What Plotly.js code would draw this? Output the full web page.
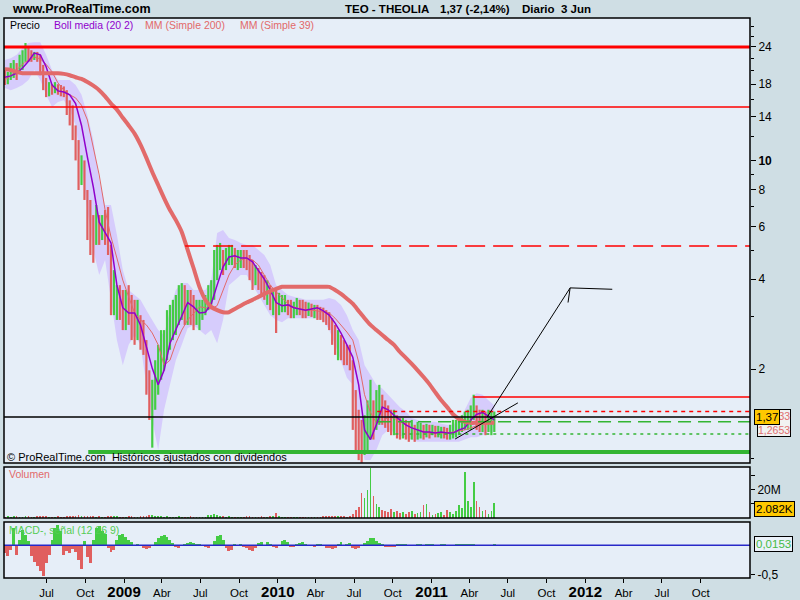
<!DOCTYPE html>
<html><head><meta charset="utf-8">
<script src="https://cdn.plot.ly/plotly-3.0.1.min.js"></script>
<style>html,body{margin:0;padding:0;background:#cfdee4;}#chart{width:800px;height:600px;}</style>
</head><body><div id="chart"></div>
<script>
// ---- weekly price bars, weeks starting 2008-03-24 ----
const firstWeek = '2008-03-24';
const high = [
20.1,19.8,21.2,21.7,21.2,22.6,23.4,24.75,23.8,23.4,
23.1,23.1,22.6,20.9,18.9,18.3,18.0,18.3,18.0,17.9,
17.7,17.2,15.9,15.3,13.1,11.7,10.4,10.0,7.96,7.37,
6.56,7.09,6.56,6.56,6.82,6.98,5.21,4.29,3.82,3.82,
3.68,3.68,3.82,3.54,3.41,3.41,3.03,2.92,2.50,1.98,
1.84,2.14,2.41,2.70,2.70,3.15,3.28,3.41,3.54,3.82,
3.88,3.82,3.68,3.68,3.54,3.41,3.41,3.41,3.54,3.82,
3.97,5.01,5.21,5.29,5.01,5.09,5.21,5.21,5.09,5.01,
5.01,5.01,5.01,4.82,4.64,4.46,4.36,4.23,4.13,3.97,
3.82,3.68,3.68,3.60,3.54,3.54,3.41,3.41,3.36,3.46,
3.41,3.41,3.36,3.34,3.31,3.28,3.28,3.23,3.21,3.15,
3.10,2.96,2.81,2.70,2.60,2.50,2.41,2.41,2.14,1.70,
1.46,1.35,1.40,1.57,1.84,1.57,1.70,1.77,1.64,1.57,
1.51,1.46,1.46,1.40,1.37,1.37,1.35,1.33,1.35,1.30,
1.33,1.32,1.30,1.31,1.30,1.30,1.29,1.29,1.28,1.28,
1.27,1.30,1.35,1.35,1.37,1.40,1.44,1.46,1.51,1.64,
1.51,1.46,1.46,1.44,1.46,1.44,1.44];
const low = [
17.9,18.0,18.6,18.9,18.6,19.8,20.1,21.4,21.4,21.4,
21.7,21.4,19.3,17.2,16.3,16.4,16.6,16.8,16.6,16.4,
16.3,14.2,13.1,11.7,10.0,7.96,8.27,7.37,5.41,4.82,
4.54,5.21,5.21,5.41,5.21,4.82,3.03,3.03,2.92,2.92,
2.70,2.70,2.81,2.50,2.41,2.50,2.32,2.23,1.64,1.35,
1.09,1.46,1.64,1.84,1.98,2.14,2.32,2.50,2.60,2.81,
2.92,2.81,2.81,2.81,2.70,2.81,2.70,2.92,3.03,3.15,
3.28,3.41,3.97,4.29,4.13,4.29,4.46,4.46,4.36,4.29,
4.36,4.36,4.29,3.97,3.68,3.82,3.68,3.54,3.41,3.28,
3.15,3.03,2.64,3.03,3.10,3.10,3.03,2.96,2.96,3.03,
3.03,2.96,2.96,3.01,2.99,2.96,2.92,2.92,2.87,2.81,
2.70,2.41,2.23,2.14,2.14,2.06,2.06,1.98,1.25,1.07,
0.99,0.97,1.03,1.07,1.16,1.16,1.25,1.30,1.30,1.27,
1.23,1.20,1.20,1.17,1.16,1.17,1.16,1.14,1.16,1.14,
1.16,1.17,1.16,1.18,1.17,1.20,1.18,1.18,1.17,1.17,
1.16,1.16,1.17,1.18,1.20,1.23,1.25,1.25,1.25,1.35,
1.25,1.23,1.23,1.20,1.23,1.20,1.23];
const close = [
18.6,18.9,20.4,20.7,19.8,21.4,22.6,23.4,23.1,22.4,
22.6,22.4,20.4,18.3,17.2,17.5,17.2,17.5,17.2,16.95,
16.7,14.8,13.85,12.6,10.8,8.94,9.29,7.96,6.31,5.85,
5.41,6.07,5.85,6.07,5.85,5.41,3.41,3.41,3.41,3.28,
3.15,3.41,3.28,2.92,2.70,2.92,2.60,2.41,1.84,1.57,
1.64,1.91,2.14,2.32,2.41,2.70,2.81,3.03,3.15,3.41,
3.41,3.28,3.28,3.15,3.03,3.03,3.03,3.15,3.28,3.41,
3.68,4.46,4.82,4.82,4.64,4.71,4.82,4.82,4.71,4.71,
4.71,4.64,4.57,4.29,3.97,4.13,4.04,3.82,3.68,3.68,
3.41,3.41,3.15,3.28,3.28,3.28,3.21,3.15,3.15,3.28,
3.26,3.21,3.15,3.21,3.15,3.15,3.10,3.08,3.03,2.96,
2.87,2.60,2.41,2.41,2.32,2.28,2.23,2.14,1.46,1.25,
1.16,1.11,1.25,1.35,1.40,1.35,1.46,1.51,1.46,1.40,
1.37,1.33,1.33,1.30,1.27,1.27,1.25,1.23,1.25,1.22,
1.23,1.25,1.23,1.25,1.23,1.25,1.23,1.23,1.23,1.22,
1.21,1.23,1.27,1.27,1.30,1.33,1.35,1.37,1.40,1.51,
1.40,1.35,1.35,1.33,1.35,1.37,1.37];
const firstOpen = 19.2;
// volume in millions
const volume = [
1.0,1.2,0.9,1.1,1.3,1.0,0.9,1.4,1.2,1.0,
0.9,1.1,1.3,1.5,1.2,1.0,0.9,1.0,1.1,0.9,
1.0,1.3,1.5,1.4,1.6,1.8,1.5,1.4,1.6,1.3,
1.2,1.0,1.1,0.9,1.0,1.2,1.5,1.3,1.1,1.0,
0.9,1.0,1.1,1.2,1.0,0.9,1.1,1.3,1.6,1.8,
2.0,1.5,1.2,1.1,1.0,1.2,1.0,0.9,1.0,1.1,
1.0,0.9,1.0,1.2,0.9,1.0,0.8,0.9,1.0,1.8,
2.2,3.0,2.0,1.5,1.2,1.0,1.1,1.0,0.9,1.0,
0.9,1.0,1.1,1.2,1.0,0.9,1.0,1.1,0.9,1.0,
1.2,1.5,3.5,1.4,1.0,0.9,1.0,0.8,0.9,1.0,
0.9,1.0,0.8,0.9,1.0,0.8,0.9,1.0,1.1,1.2,
1.3,1.5,1.4,1.2,1.3,1.1,1.0,1.2,3.0,6.0,
8.0,18.0,14.0,20.0,36.0,16.0,10.0,8.0,6.0,5.0,
4.0,6.5,4.0,5.0,3.5,4.5,3.0,4.0,5.0,3.0,
3.5,4.0,9.0,10.0,4.0,2.5,3.0,3.5,4.0,2.5,
6.0,4.0,3.0,5.0,9.0,7.0,33.0,12.0,8.0,26.0,
12.0,8.0,5.0,6.0,3.0,5.0,11.0];
// MACD - signal histogram
const macdHist = [
-0.14,-0.18,-0.08,0.30,-0.16,0.10,0.27,0.18,0.08,-0.18,
-0.28,-0.36,-0.44,-0.53,-0.30,-0.16,0.10,0.30,0.35,0.25,
-0.16,-0.10,-0.14,-0.06,-0.12,-0.25,-0.40,0.07,-0.20,-0.30,
0.10,0.30,0.33,0.25,0.20,-0.05,-0.12,-0.08,0.10,0.17,
0.20,0.15,0.10,0.06,-0.02,0.03,0.01,-0.04,-0.06,-0.05,
-0.02,0.06,0.12,0.16,0.17,0.14,0.10,0.04,-0.03,-0.04,
-0.02,0.02,0.04,0.06,0.04,0.02,0.03,0.01,-0.03,-0.04,
-0.02,0.08,0.16,0.17,0.10,-0.05,-0.10,-0.08,0.02,-0.02,
0.03,-0.03,-0.05,-0.08,-0.10,-0.05,0.04,0.05,-0.02,0.05,
0.03,-0.03,-0.04,-0.02,0.08,0.10,0.06,-0.03,-0.03,0.02,
0.04,0.05,0.03,-0.01,-0.02,-0.03,0.02,0.02,-0.02,-0.04,
-0.05,-0.06,-0.04,0.03,0.05,-0.02,0.03,0.04,-0.05,-0.07,
-0.04,-0.02,0.04,0.08,0.13,0.12,0.08,0.04,0.02,-0.03,
-0.03,-0.03,-0.03,0.02,0.02,0.02,0.02,-0.02,-0.02,-0.02,
0.02,0.02,-0.02,0.02,0.02,0.02,-0.02,-0.02,0.02,0.02,
-0.02,-0.02,-0.02,0.02,0.02,0.02,0.03,0.03,0.03,0.02,
-0.02,-0.02,-0.02,-0.02,-0.02,-0.02,0.0153];

// ---- indicator lines, every two weeks from 2008-03-24 ----
const bollMid = [
19.0,19.2,19.6,20.4,21.5,22.9,22.6,20.6,17.9,17.1,
16.95,16.6,15.5,13.1,10.25,8.15,6.21,5.76,5.29,3.82,
3.21,3.08,3.08,2.81,2.35,2.01,1.77,1.98,2.44,2.70,
3.01,3.34,3.23,3.08,3.10,3.31,3.82,4.39,4.75,4.79,
4.71,4.71,4.57,4.26,4.00,3.68,3.34,3.26,3.28,3.21,
3.18,3.15,3.18,3.21,3.13,3.03,2.85,2.64,2.41,2.19,
1.77,1.25,1.16,1.30,1.49,1.46,1.40,1.35,1.30,1.27,
1.25,1.23,1.23,1.22,1.23,1.22,1.22,1.25,1.27,1.35,
1.41,1.43,1.39,1.35];
const bollUpper = [
21.7,22.0,22.6,23.8,24.75,24.9,24.9,22.6,20.1,18.6,
18.6,18.6,17.9,16.6,14.2,11.7,8.60,7.09,7.09,5.63,
4.29,3.68,3.54,3.41,3.15,2.92,2.70,2.60,3.15,3.68,
3.88,3.88,3.68,3.68,3.68,3.97,5.71,5.85,5.50,5.41,
5.29,5.21,5.21,5.01,4.82,4.46,3.82,3.68,3.54,3.49,
3.46,3.41,3.41,3.41,3.41,3.46,3.41,3.28,3.03,2.70,
2.50,2.06,1.91,1.77,1.72,1.64,1.57,1.49,1.44,1.37,
1.35,1.33,1.33,1.33,1.31,1.30,1.30,1.35,1.46,1.60,
1.66,1.64,1.57,1.51];
const bollLower = [
17.5,17.2,17.5,17.9,18.6,20.1,18.6,16.6,15.1,15.7,
15.9,14.8,13.1,9.65,6.82,5.01,4.13,4.64,3.41,2.50,
2.06,2.41,2.60,2.41,1.77,1.35,1.07,1.46,1.77,2.14,
2.41,2.74,2.81,2.70,2.60,2.70,2.44,2.92,3.82,3.97,
4.13,4.13,3.82,3.54,3.28,3.03,2.92,2.87,2.96,2.96,
2.96,2.96,2.96,2.96,2.92,2.70,2.41,2.14,1.87,1.77,
1.25,0.99,0.99,1.07,1.20,1.25,1.23,1.20,1.17,1.16,
1.14,1.14,1.14,1.14,1.14,1.14,1.14,1.14,1.16,1.18,
1.18,1.20,1.23,1.23];
const mm39 = [
18.6,19.2,20.1,21.0,21.7,22.2,21.9,21.0,19.8,18.2,
17.2,16.6,16.2,15.3,13.66,11.1,8.94,6.82,5.54,4.71,
3.97,3.49,3.08,2.92,2.81,2.64,2.41,2.06,2.14,2.44,
2.70,2.92,3.08,3.23,3.21,3.18,3.26,3.68,4.13,4.46,
4.64,4.71,4.64,4.46,4.13,3.82,3.63,3.46,3.31,3.23,
3.18,3.15,3.15,3.13,3.10,3.08,2.96,2.81,2.66,2.50,
2.11,1.64,1.43,1.32,1.33,1.38,1.37,1.33,1.30,1.27,
1.25,1.23,1.22,1.22,1.22,1.22,1.23,1.24,1.25,1.27,
1.29,1.31,1.31,1.32];
const mm200 = [
20.2,20.1,19.8,19.6,19.6,19.6,19.6,19.6,19.6,19.6,
19.5,19.3,19.0,18.75,18.3,17.8,17.2,16.4,15.5,14.8,
13.9,13.1,12.3,11.3,10.2,9.15,8.27,7.48,6.82,6.31,
5.76,5.01,4.36,3.77,3.41,3.23,3.15,3.10,3.10,3.18,
3.26,3.34,3.41,3.49,3.57,3.65,3.71,3.77,3.77,3.77,
3.77,3.77,3.77,3.77,3.77,3.77,3.68,3.57,3.44,3.31,
3.13,2.96,2.81,2.70,2.60,2.50,2.41,2.28,2.18,2.08,
1.98,1.88,1.78,1.67,1.57,1.49,1.41,1.36,1.33,1.32,
1.32,1.32,1.32,1.32];

// ---- horizontal levels and hand-drawn lines ----
const levelValues = [24, 15.1, 5.17, 1.61, 1.44, 1.38, 1.33, 1.21, 1.054];
const levelStarts = ['2008-03-22','2008-03-22','2009-05-26','2011-04-10','2010-08-25','2008-03-22','2010-08-27','2010-10-07','2008-10-08'];
const levelEnd = '2013-01-26';
const drawDates = [['2011-02-26','2011-07-25'], ['2011-05-13','2011-11-26','2012-03-05'], ['2011-11-26','2011-11-21']];
const drawValues = [[1.165,1.54], [1.38,3.74,3.70], [3.74,3.34]];

const monthTicks = ['2008-07-01','2008-10-01','2009-01-01','2009-04-01','2009-07-01','2009-10-01','2010-01-01','2010-04-01','2010-07-01','2010-10-01','2011-01-01','2011-04-01','2011-07-01','2011-10-01','2012-01-01','2012-04-01','2012-07-01','2012-10-01'];
const monthLabels = ['Jul','Oct','2009','Abr','Jul','Oct','2010','Abr','Jul','Oct','2011','Abr','Jul','Oct','2012','Abr','Jul','Oct'];

// ---------------- build ----------------
const DAY = 86400000;
const t0 = Date.parse(firstWeek + 'T00:00:00Z');
const iso = ms => new Date(ms).toISOString().slice(0,10);
const barDates = close.map((_, i) => iso(t0 + i*7*DAY));
const lineDates = mm200.map((_, k) => iso(t0 + k*14*DAY));
const open = close.map((c, i) => i === 0 ? firstOpen : close[i-1]);
const isUp = close.map((c, i) => c >= open[i]);

const GREEN = '#44cc44', RED = '#e05f5f', SALMON = '#e26a6a';
const skip = {hoverinfo:'skip', showlegend:false};

function rangeSegments(wantUp) {
  const xs = [], ys = [];
  close.forEach((c, i) => {
    if (isUp[i] === wantUp) { xs.push(barDates[i], barDates[i], null); ys.push(low[i], high[i], null); }
  });
  return {xs, ys};
}

const traces = [];
traces.push(Object.assign({type:'scatter', mode:'lines', x:lineDates, y:bollLower, line:{width:0, color:'rgba(0,0,0,0)'}, xaxis:'x', yaxis:'y'}, skip));
traces.push(Object.assign({type:'scatter', mode:'lines', x:lineDates, y:bollUpper, fill:'tonexty', fillcolor:'rgb(214,204,252)', line:{width:0, color:'rgba(0,0,0,0)'}, xaxis:'x', yaxis:'y'}, skip));
const downSeg = rangeSegments(false), upSeg = rangeSegments(true);
traces.push(Object.assign({type:'scatter', mode:'lines', x:downSeg.xs, y:downSeg.ys, connectgaps:false, line:{color:RED, width:2.2}, xaxis:'x', yaxis:'y'}, skip));
traces.push(Object.assign({type:'scatter', mode:'lines', x:upSeg.xs, y:upSeg.ys, connectgaps:false, line:{color:GREEN, width:2.2}, xaxis:'x', yaxis:'y'}, skip));
traces.push(Object.assign({type:'scatter', mode:'lines', x:lineDates, y:mm39, line:{color:SALMON, width:1}, xaxis:'x', yaxis:'y'}, skip));
traces.push(Object.assign({type:'scatter', mode:'lines', x:lineDates, y:bollMid, line:{color:'#9000cc', width:1.5}, xaxis:'x', yaxis:'y'}, skip));
traces.push(Object.assign({type:'scatter', mode:'lines', x:lineDates, y:mm200, line:{color:SALMON, width:4, shape:'spline', smoothing:0.6}, xaxis:'x', yaxis:'y'}, skip));

const levelStyle = [
  {color:'#ff0000', width:3}, {color:'#ff0000', width:1.5}, {color:'#ff0000', width:1.5, dash:'20px,8px'},
  {color:'#ff0000', width:1.5}, {color:'#ff0000', width:1.5, dash:'4px,4px'}, {color:'#000000', width:1.5},
  {color:'#33b533', width:1.5, dash:'13px,7px'}, {color:'#33b533', width:1.5, dash:'3px,4px'}, {color:'#33b533', width:4}
];
levelValues.forEach((v, j) => {
  traces.push(Object.assign({type:'scatter', mode:'lines', x:[levelStarts[j], levelEnd], y:[v, v], line:levelStyle[j], xaxis:'x', yaxis:'y'}, skip));
});
drawDates.forEach((d, j) => {
  traces.push(Object.assign({type:'scatter', mode:'lines', x:d, y:drawValues[j], line:{color:'#000', width:1}, xaxis:'x', yaxis:'y'}, skip));
});

// volume
traces.push(Object.assign({type:'bar', x:barDates, y:volume, width:4*DAY,
  marker:{color: isUp.map(u => u ? GREEN : RED), line:{width:0}}, xaxis:'x', yaxis:'y2'}, skip));
// MACD
traces.push(Object.assign({type:'bar', x:barDates, y:macdHist, width:7*DAY,
  marker:{color: macdHist.map(v => v >= 0 ? GREEN : RED), line:{width:0}}, xaxis:'x', yaxis:'y3'}, skip));
traces.push(Object.assign({type:'scatter', mode:'lines', x:['2008-03-22', levelEnd], y:[0,0], line:{color:'#2828c8', width:1.5}, xaxis:'x', yaxis:'y3'}, skip));

// ---------------- layout ----------------
const PX = x => (x - 4) / 746;
const PY = y => (578 - y) / 560;
const FONT = 'Liberation Sans, Arial, sans-serif';
const tickFont = {family:FONT, size:12, color:'#000'};

const ann = (x, y, text, opts) => Object.assign({xref:'paper', yref:'paper', x:PX(x), y:PY(y), text:text, showarrow:false, xanchor:'left', yanchor:'middle', font:{family:FONT, size:10.5, color:'#000'}}, opts || {});

const annotations = [
  ann(10, 9, '<b>www.ProRealTime.com</b>', {font:{family:FONT, size:12.5, color:'#000'}}),
  ann(343, 9, '<b>TEO - THEOLIA</b>', {font:{family:FONT, size:11.5, color:'#000'}}),
  ann(438, 9, '<b>1,37 (-2,14%)</b>', {font:{family:FONT, size:11.5, color:'#000'}}),
  ann(520, 9, '<b>Diario  3 Jun</b>', {font:{family:FONT, size:11.5, color:'#000'}}),
  ann(8, 25, 'Precio'),
  ann(52, 25, 'Boll media (20 2)', {font:{family:FONT, size:10.5, color:'#9000cc'}}),
  ann(143, 25, 'MM (Simple 200)', {font:{family:FONT, size:10.5, color:SALMON}}),
  ann(238, 25, 'MM (Simple 39)', {font:{family:FONT, size:10.5, color:SALMON}}),
  ann(5, 457, '© ProRealTime.com  Históricos ajustados con dividendos', {font:{family:FONT, size:11, color:'#000'}}),
  ann(7, 474, 'Volumen', {font:{family:FONT, size:10.5, color:SALMON}}),
  ann(7, 530, 'MACD-, señal (12 26 9)', {font:{family:FONT, size:10.5, color:'#55cc55'}}),
  ann(757, 409, '33<br>1,2653', {yanchor:'top', align:'right', bgcolor:'#f2f2f2', bordercolor:'#000', borderwidth:1, borderpad:0, font:{family:FONT, size:10.5, color:'#e07070'}}),
  ann(754, 416.5, '1,37', {bgcolor:'#ffc800', bordercolor:'#000', borderwidth:1, borderpad:1, font:{family:FONT, size:11.5, color:'#000'}}),
  ann(754, 509, '2.082K', {bgcolor:'#ffc800', bordercolor:'#000', borderwidth:1, borderpad:1, font:{family:FONT, size:11.5, color:'#000'}}),
  ann(754, 543.5, '0,0153', {bgcolor:'#eaf1f9', bordercolor:'#000', borderwidth:1, borderpad:1, font:{family:FONT, size:11.5, color:'#44bb44'}})
];

const frame = (y0, y1) => ({type:'rect', xref:'paper', yref:'paper', x0:0, x1:1, y0:PY(y0), y1:PY(y1), line:{color:'#000', width:1.5}, fillcolor:'rgba(0,0,0,0)'});
const shapes = [frame(463, 18), frame(518, 467), frame(578, 522)];

const layout = {
  width:800, height:600,
  margin:{l:4, r:50, t:18, b:22, pad:0},
  paper_bgcolor:'#cfdee4', plot_bgcolor:'#e6eef8',
  showlegend:false, hovermode:false, bargap:0,
  font:{family:FONT, color:'#000'},
  xaxis:{type:'date', range:['2008-03-22', levelEnd], domain:[0,1], anchor:'y3',
    tickmode:'array', tickvals:monthTicks,
    ticktext: monthLabels.map(t => /^\d{4}$/.test(t) ? '<span style="font-size:15px"><b>' + t + '</b></span>' : t),
    ticks:'outside', ticklen:4, tickcolor:'#000', tickfont:{family:FONT, size:11.5, color:'#000'},
    showgrid:false, zeroline:false, showline:false, fixedrange:true},
  yaxis:{type:'log', domain:[PY(463), 1], range:[-0.014, 1.4773], side:'right', anchor:'x',
    tickmode:'array', tickvals:[2,4,6,8,10,14,18,24], ticktext:['2','4','6','8','<b>10</b>','14','18','24'],
    ticks:'outside', ticklen:5, tickcolor:'#000', tickfont:tickFont,
    minor:{tickmode:'array', tickvals:[1,3,5,7,9,12,16,20,22,26,28], ticks:'outside', ticklen:3, tickcolor:'#000'},
    showgrid:false, zeroline:false, showline:false, fixedrange:true},
  yaxis2:{domain:[PY(518), PY(467)], range:[0, 36.4], side:'right', anchor:'x',
    tickmode:'array', tickvals:[10,20,30], ticktext:['','20M',''],
    ticks:'outside', ticklen:4, tickcolor:'#000', tickfont:tickFont,
    showgrid:false, zeroline:false, showline:false, fixedrange:true},
  yaxis3:{domain:[0, PY(522)], range:[-0.5638, 0.4017], side:'right', anchor:'x',
    tickmode:'array', tickvals:[-0.5], ticktext:['-0,5'],
    ticks:'outside', ticklen:4, tickcolor:'#000', tickfont:tickFont,
    showgrid:false, zeroline:false, showline:false, fixedrange:true},
  annotations:annotations,
  shapes:shapes
};

Plotly.newPlot('chart', traces, layout, {displayModeBar:false, staticPlot:true});
</script>
</body></html>
